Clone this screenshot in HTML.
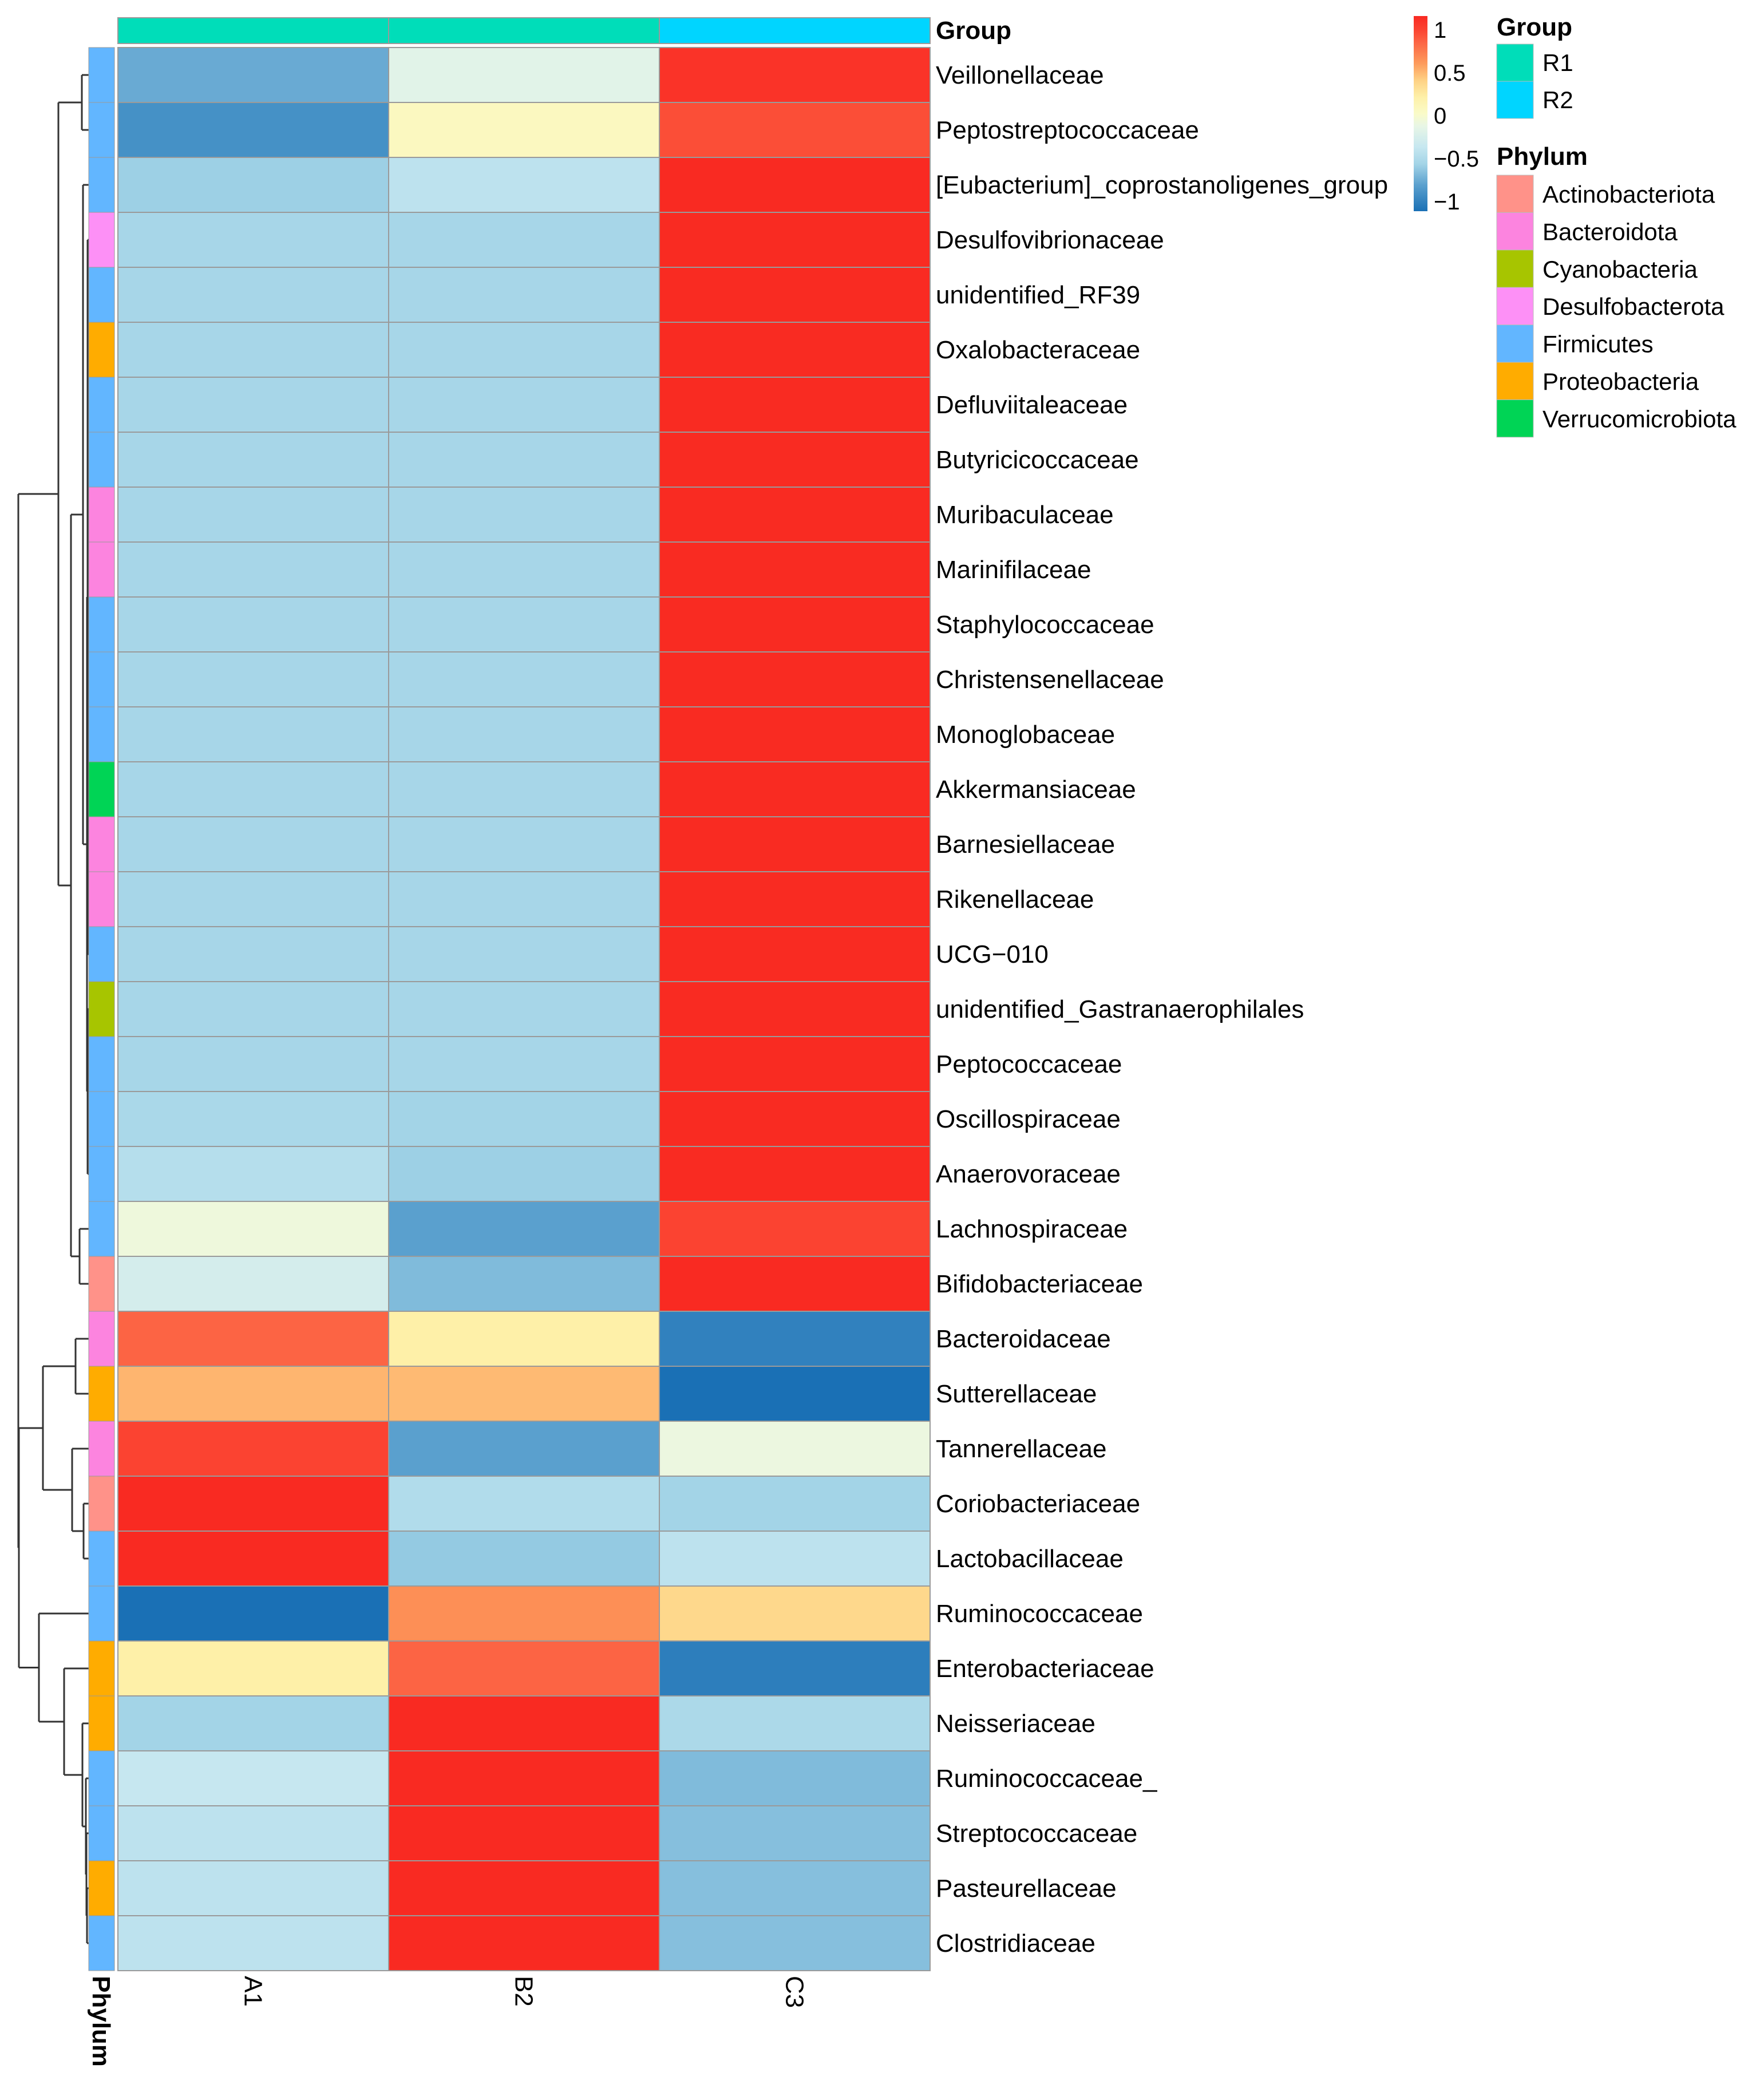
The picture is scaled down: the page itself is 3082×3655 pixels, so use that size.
<!DOCTYPE html>
<html><head><meta charset="utf-8"><style>
html,body{margin:0;padding:0;background:#fff;}
svg{display:block;font-family:"Liberation Sans",Arial,sans-serif;}
</style></head><body>
<svg id="chart" width="3082" height="3655" viewBox="0 0 3082 3655" xmlns="http://www.w3.org/2000/svg">
<g id="dendro"></g>
<g id="phy"></g>
<g id="grp"></g>
<g id="cells"></g>
<g id="rlab"></g>
<g id="clab"></g>
<g id="legend"></g>
</svg>
<script>
const rows = ["Veillonellaceae","Peptostreptococcaceae","[Eubacterium]_coprostanoligenes_group","Desulfovibrionaceae","unidentified_RF39","Oxalobacteraceae","Defluviitaleaceae","Butyricicoccaceae","Muribaculaceae","Marinifilaceae","Staphylococcaceae","Christensenellaceae","Monoglobaceae","Akkermansiaceae","Barnesiellaceae","Rikenellaceae","UCG\u2212010","unidentified_Gastranaerophilales","Peptococcaceae","Oscillospiraceae","Anaerovoraceae","Lachnospiraceae","Bifidobacteriaceae","Bacteroidaceae","Sutterellaceae","Tannerellaceae","Coriobacteriaceae","Lactobacillaceae","Ruminococcaceae","Enterobacteriaceae","Neisseriaceae","Ruminococcaceae_","Streptococcaceae","Pasteurellaceae","Clostridiaceae"];
const cols = ["A1","B2","C3"];
const colGroups = ["R1","R1","R2"];
const valA1 = [-0.8,-0.95,-0.62,-0.577,-0.577,-0.577,-0.577,-0.577,-0.577,-0.577,-0.577,-0.577,-0.577,-0.577,-0.577,-0.577,-0.577,-0.577,-0.577,-0.56,-0.5,-0.1,-0.3,0.85,0.5,1.0,1.16,1.16,-1.16,0.2,-0.6,-0.4,-0.45,-0.45,-0.45];
const valB2 = [-0.2,0.05,-0.45,-0.577,-0.577,-0.577,-0.577,-0.577,-0.577,-0.577,-0.577,-0.577,-0.577,-0.577,-0.577,-0.577,-0.577,-0.577,-0.577,-0.6,-0.62,-0.85,-0.72,0.2,0.48,-0.85,-0.52,-0.65,0.65,0.85,1.16,1.16,1.16,1.16,1.16];
const valC3 = [1.1,0.95,1.16,1.155,1.155,1.155,1.155,1.155,1.155,1.155,1.155,1.155,1.155,1.155,1.155,1.155,1.155,1.155,1.155,1.155,1.155,1.0,1.16,-1.05,-1.16,-0.12,-0.6,-0.45,0.35,-1.07,-0.55,-0.72,-0.7,-0.7,-0.7];
const rowPhylum = ["Firmicutes","Firmicutes","Firmicutes","Desulfobacterota","Firmicutes","Proteobacteria","Firmicutes","Firmicutes","Bacteroidota","Bacteroidota","Firmicutes","Firmicutes","Firmicutes","Verrucomicrobiota","Bacteroidota","Bacteroidota","Firmicutes","Cyanobacteria","Firmicutes","Firmicutes","Firmicutes","Firmicutes","Actinobacteriota","Bacteroidota","Proteobacteria","Bacteroidota","Actinobacteriota","Firmicutes","Firmicutes","Proteobacteria","Proteobacteria","Firmicutes","Firmicutes","Proteobacteria","Firmicutes"];
const phylaNames = ["Actinobacteriota","Bacteroidota","Cyanobacteria","Desulfobacterota","Firmicutes","Proteobacteria","Verrucomicrobiota"];
const phylaColors = ["#FF9289","#FC84DF","#A7C500","#FD90F6","#62B6FF","#FFAC00","#00D455"];
const groupNames = ["R1","R2"];
const groupColors = ["#00DDB9","#00D5FF"];
const scaleTicks = [1,0.5,0,-0.5,-1];
const scaleTickLabels = ["1","0.5","0","\u22120.5","\u22121"];
// dendrogram: [height(px x), children...] ; leaves are row indices
const tree = [32,
  [102,[143,0,1],[124,[145,2,[152,[153,3,4,5,6,7,8,9,10,11,12,13,14,15,16],[153,17,18,19,20]]],[139,21,22]]],
  [33,[75,[132,23,24],[126,25,[146,26,27]]],[68,28,[112,29,[144,30,[150,31,[151,32,[152,33,34]]]]]]]
];

const NS="http://www.w3.org/2000/svg";
const X0=206, CW=473, Y0=83, RH=96, LEAFX=155;
function el(tag,attrs,parent){const e=document.createElementNS(NS,tag);for(const k in attrs)e.setAttribute(k,attrs[k]);parent.appendChild(e);return e;}
const stops=[[-1.16,"#1A70B5"],[-0.85,"#5AA0CE"],[-0.6,"#A3D4E7"],[-0.4,"#C6E7F0"],[-0.15,"#E8F6E6"],[0,"#FAFBC8"],[0.2,"#FEF0A8"],[0.4,"#FED083"],[0.6,"#FD9A5B"],[0.85,"#FC6444"],[1.0,"#FB4331"],[1.16,"#F92A22"]];
function hex(c){return[parseInt(c.slice(1,3),16),parseInt(c.slice(3,5),16),parseInt(c.slice(5,7),16)];}
function color(v){if(v<=stops[0][0])return stops[0][1];for(let i=1;i<stops.length;i++){if(v<=stops[i][0]){const a=hex(stops[i-1][1]),b=hex(stops[i][1]);const t=(v-stops[i-1][0])/(stops[i][0]-stops[i-1][0]);return"rgb("+a.map((x,j)=>Math.round(x+(b[j]-x)*t)).join(",")+")";}}return stops[stops.length-1][1];}
const xCol=i=>X0+i*CW, yRow=i=>Y0+i*RH;
const vals=[valA1,valB2,valC3];

// cells
const gc=document.getElementById('cells');
rows.forEach((r,i)=>{cols.forEach((c,j)=>{
  const rc=el('rect',{x:xCol(j),y:yRow(i),width:CW,height:RH,fill:color(vals[j][i]),stroke:"#9a9a9a","stroke-width":2},gc);
  
  
});});
// group bar
const gg=document.getElementById('grp');
cols.forEach((c,j)=>{
  const rc=el('rect',{x:xCol(j),y:31,width:CW,height:45,fill:groupColors[groupNames.indexOf(colGroups[j])],stroke:"#9a9a9a","stroke-width":2},gg);
  
  
});
const gt=el('text',{x:1635,y:68,"font-size":44,"font-weight":"bold",fill:"#000"},gg);gt.textContent="Group";


// phylum bar
const gp=document.getElementById('phy');
rows.forEach((r,i)=>{
  const rc=el('rect',{x:155,y:yRow(i),width:45,height:RH,fill:phylaColors[phylaNames.indexOf(rowPhylum[i])],stroke:"#9a9a9a","stroke-width":1},gp);
  
  
});
const pt=el('text',{transform:"translate(162,3452) rotate(90)","font-size":44,"font-weight":"bold",fill:"#000"},gp);pt.textContent="Phylum";


// row labels
const gr=document.getElementById('rlab');
rows.forEach((r,i)=>{
  const t=el('text',{x:1635,y:yRow(i)+RH/2+15,"font-size":44,fill:"#000"},gr);t.textContent=r;
  
  
});
// col labels
const gcl=document.getElementById('clab');
cols.forEach((c,j)=>{
  const t=el('text',{transform:"translate("+(xCol(j)+CW/2-15)+",3452) rotate(90)","font-size":44,fill:"#000"},gcl);t.textContent=c;
  
  
});
// dendrogram
const gd=document.getElementById('dendro');
function draw(node){
  if(typeof node==="number")return{y:yRow(node)+RH/2,x:LEAFX};
  const h=node[0];const ch=node.slice(1).map(draw);
  ch.forEach(c=>{const l=el('line',{x1:h,y1:c.y,x2:c.x,y2:c.y,stroke:"#333","stroke-width":3},gd);
    
    });
  const y1=ch[0].y,y2=ch[ch.length-1].y;
  const v=el('line',{x1:h,y1:y1,x2:h,y2:y2,stroke:"#333","stroke-width":3},gd);
  
  
  return{y:(y1+y2)/2,x:h};
}
draw(tree);
// legend
const gl=document.getElementById('legend');
const defs=el('defs',{},gl);
const lg=el('linearGradient',{id:"cb",x1:0,y1:1,x2:0,y2:0},defs);
stops.forEach(s=>el('stop',{offset:((s[0]+1.16)/2.32),"stop-color":s[1]},lg));
const cb=el('rect',{x:2470,y:28,width:24,height:341,fill:"url(#cb)"},gl);


const vy=v=>201-v*150;
scaleTicks.forEach((v,i)=>{
  const t=el('text',{x:2505,y:vy(v)+15,"font-size":40,fill:"#000"},gl);t.textContent=scaleTickLabels[i];
  
  
});
const lt1=el('text',{x:2615,y:62,"font-size":44,"font-weight":"bold",fill:"#000"},gl);lt1.textContent="Group";


groupNames.forEach((g,i)=>{
  const r=el('rect',{x:2615,y:77+i*65,width:64,height:65,fill:groupColors[i],stroke:"#bbb","stroke-width":1},gl);
  
  
  const t=el('text',{x:2695,y:77+i*65+47,"font-size":42,fill:"#000"},gl);t.textContent=g;
  
  
});
const lt2=el('text',{x:2615,y:288,"font-size":44,"font-weight":"bold",fill:"#000"},gl);lt2.textContent="Phylum";


phylaNames.forEach((p,i)=>{
  const r=el('rect',{x:2615,y:306+i*65.4,width:64,height:65.4,fill:phylaColors[i],stroke:"#bbb","stroke-width":1},gl);
  
  
  const t=el('text',{x:2695,y:306+i*65.4+48,"font-size":42,fill:"#000"},gl);t.textContent=p;
  
  
});
</script>
</body></html>
